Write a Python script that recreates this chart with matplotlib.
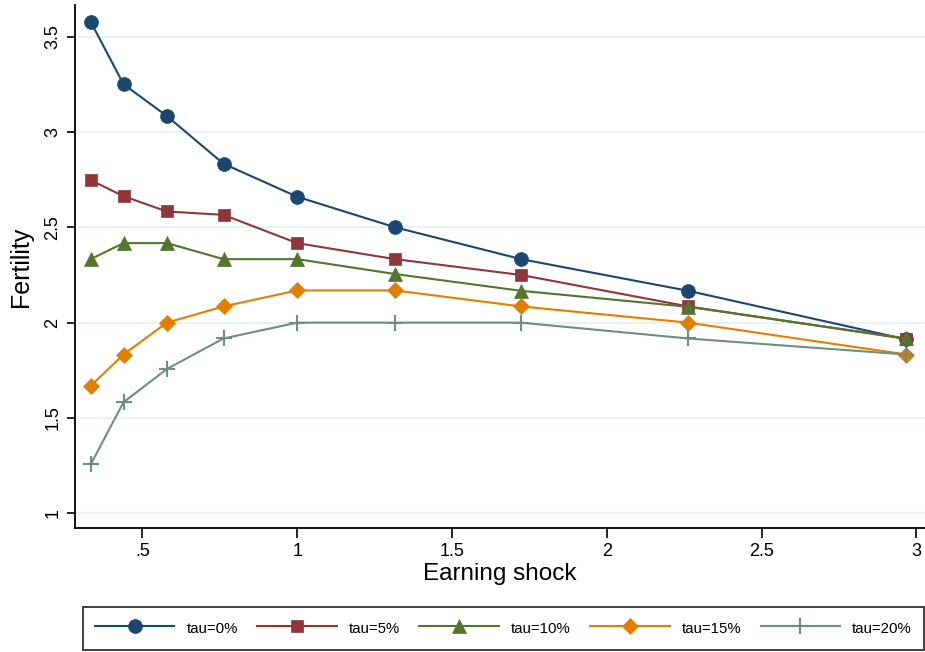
import matplotlib
matplotlib.use("Agg")
import matplotlib.pyplot as plt

plt.rcParams['font.family'] = ['Liberation Sans', 'DejaVu Sans']

shock = [0.333, 0.439, 0.579, 0.762, 1.0, 1.316, 1.723, 2.263, 2.968]
tau0 = [3.577, 3.25, 3.083, 2.833, 2.66, 2.5, 2.333, 2.167, 1.912]
tau5 = [2.747, 2.663, 2.583, 2.565, 2.417, 2.333, 2.25, 2.085, 1.915]
tau10 = [2.333, 2.417, 2.417, 2.333, 2.333, 2.255, 2.167, 2.083, 1.917]
tau15 = [1.669, 1.833, 2.0, 2.085, 2.169, 2.169, 2.085, 2.0, 1.833]
tau20 = [1.257, 1.583, 1.757, 1.917, 2.0, 2.0, 2.0, 1.917, 1.833]

labels = ["tau=0%", "tau=5%", "tau=10%", "tau=15%", "tau=20%"]
series = [tau0, tau5, tau10, tau15, tau20]
colors = ["#1a476f", "#90353b", "#55752f", "#e37e00", "#6e8e84"]
markers = ["o", "s", "^", "D", "+"]
msizes = [10, 8.5, 9.5, 8.5, 11]

xticks = [0.5, 1, 1.5, 2, 2.5, 3]
xticklabels = [".5", "1", "1.5", "2", "2.5", "3"]
yticks = [1, 1.5, 2, 2.5, 3, 3.5]
yticklabels = ["1", "1.5", "2", "2.5", "3", "3.5"]

fig = plt.figure(figsize=(9.25, 6.52), dpi=100)
ax = fig.add_axes([0.081, 0.19, 0.919, 0.802])

for y in yticks:
    ax.axhline(y, color="#eaf2f3", lw=1.6, zorder=0)

handles = []
for ys, lab, c, m, ms in zip(series, labels, colors, markers, msizes):
    mew = 1.5 if m == "+" else 0.5
    h, = ax.plot(shock, ys, color=c, lw=1.5, marker=m, markersize=ms,
                 markeredgecolor=c, markeredgewidth=mew, label=lab)
    handles.append(h)

ax.set_xlim(0.282, 3.028)
ax.set_ylim(0.923, 3.664)
ax.set_xticks(xticks)
ax.set_xticklabels(xticklabels, fontsize=13)
ax.set_yticks(yticks)
ax.set_yticklabels(yticklabels, fontsize=13, rotation=90, va="center")
ax.tick_params(axis="x", direction="out", length=7.2, width=1.2, color="black", pad=3.5)
ax.tick_params(axis="y", direction="out", length=5.8, width=1.2, color="black", pad=4)

for s in ["top", "right"]:
    ax.spines[s].set_visible(False)
for s in ["left", "bottom"]:
    ax.spines[s].set_linewidth(1.3)

ax.set_xlabel("Earning shock", fontsize=17.5, labelpad=2)
ax.set_ylabel("Fertility", fontsize=18, labelpad=8)

leg = fig.legend(handles=handles, labels=labels, loc="lower left",
                 bbox_to_anchor=(0.0897, 0.003, 0.909, 0.0736), mode="expand",
                 ncol=5, fontsize=10.8, frameon=True, fancybox=False,
                 edgecolor="black", handlelength=5.3, handletextpad=0.8,
                 handleheight=1.6, borderaxespad=0, borderpad=0.8,
                 markerscale=1.0)
leg.get_frame().set_linewidth(1.3)

fig.savefig("out.png", dpi=100)
